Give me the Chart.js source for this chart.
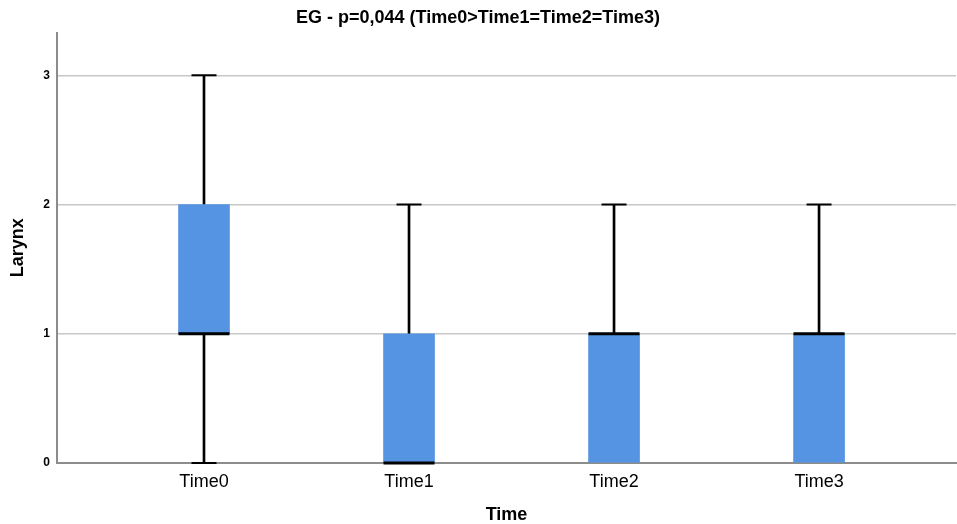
<!DOCTYPE html>
<html>
<head>
<meta charset="utf-8">
<script src="https://cdn.jsdelivr.net/npm/chart.js@4"></script>
<style>
  html, body { margin: 0; padding: 0; background: #fff; }
  #wrap { width: 957px; height: 524px; }
</style>
</head>
<body>
<div id="wrap"><canvas id="boxplot"></canvas></div>
<script>
// box plot values per time point
const categories = ['Time0', 'Time1', 'Time2', 'Time3'];
const minVals = [0, 0, 0, 0];
const q1Vals = [1, 0, 0, 0];
const medianVals = [1, 0, 1, 1];
const q3Vals = [2, 1, 1, 1];
const maxVals = [3, 2, 2, 2];
const yTicks = [0, 1, 2, 3];

const FONT = "'Liberation Sans', Arial, sans-serif";

const boxData = categories.map((c, i) => ({ x: i, y: [q1Vals[i], q3Vals[i]] }));
const upperWhisker = categories.map((c, i) => ({ x: i, y: [q3Vals[i], maxVals[i]] })).filter(d => d.y[1] > d.y[0]);
const lowerWhisker = categories.map((c, i) => ({ x: i, y: [minVals[i], q1Vals[i]] })).filter(d => d.y[1] > d.y[0]);
const caps = [];
categories.forEach((c, i) => {
    if (maxVals[i] > q3Vals[i]) caps.push({ x: i, y: maxVals[i] });
    if (minVals[i] < q1Vals[i]) caps.push({ x: i, y: minVals[i] });
});
const medians = categories.map((c, i) => ({ x: i, y: medianVals[i] }));

new Chart(document.getElementById('boxplot'), {
    type: 'bar',
    data: {
        datasets: [
            {
                label: 'whisker up',
                data: upperWhisker,
                backgroundColor: '#000',
                barThickness: 2,
                grouped: false,
                order: 4
            },
            {
                label: 'whisker down',
                data: lowerWhisker,
                backgroundColor: '#000',
                barThickness: 2,
                grouped: false,
                order: 4
            },
            {
                label: 'box',
                data: boxData,
                backgroundColor: '#5594e2',
                borderWidth: 0,
                barThickness: 51,
                grouped: false,
                order: 3
            },
            {
                type: 'scatter',
                label: 'caps',
                data: caps,
                pointStyle: 'line',
                radius: 12.5,
                borderColor: '#000',
                pointBorderWidth: 2,
                clip: false,
                order: 2
            },
            {
                type: 'scatter',
                label: 'median',
                data: medians,
                pointStyle: 'line',
                radius: 25.5,
                borderColor: '#000',
                pointBorderWidth: 3,
                clip: false,
                order: 1
            }
        ]
    },
    options: {
        responsive: true,
        maintainAspectRatio: false,
        animation: false,
        layout: { autoPadding: false, padding: { right: 1 } },
        plugins: {
            legend: { display: false },
            tooltip: { enabled: false },
            title: {
                display: true,
                text: 'EG - p=0,044 (Time0>Time1=Time2=Time3)',
                color: '#000',
                font: { family: FONT, size: 18, weight: 'bold' },
                padding: { top: 7, bottom: 4 }
            }
        },
        scales: {
            x: {
                type: 'linear',
                offset: false,
                min: -0.717,
                max: 3.668,
                afterFit: scale => {
                    scale.height = 61;
                    scale.paddingLeft = 0;
                    scale.paddingRight = 0;
                },
                afterBuildTicks: scale => {
                    scale.ticks = categories.map((c, i) => ({ value: i }));
                },
                ticks: {
                    callback: v => categories[v],
                    color: '#000',
                    font: { family: FONT, size: 18 },
                    padding: 8,
                    maxRotation: 0
                },
                grid: { display: false, drawTicks: false },
                border: { color: '#8c8c8c', width: 2 },
                title: {
                    display: true,
                    text: 'Time',
                    color: '#000',
                    font: { family: FONT, size: 18, weight: 'bold' },
                    padding: { top: 4, bottom: -2 }
                }
            },
            y: {
                min: 0,
                max: 3.33,
                afterFit: scale => { scale.width = 57; },
                afterBuildTicks: scale => {
                    scale.ticks = yTicks.map(v => ({ value: v }));
                },
                ticks: {
                    color: '#000',
                    font: { family: FONT, size: 12, weight: 'bold' },
                    padding: 7
                },
                grid: {
                    color: ctx => ctx.tick && ctx.tick.value === 0 ? 'rgba(0,0,0,0)' : '#c8c8c8',
                    lineWidth: 1.5,
                    drawTicks: false
                },
                border: { color: '#8c8c8c', width: 2 },
                title: {
                    display: true,
                    text: 'Larynx',
                    color: '#000',
                    font: { family: FONT, size: 18, weight: 'bold' },
                    padding: { top: 7, bottom: 0 }
                }
            }
        }
    }
});
</script>
</body>
</html>
